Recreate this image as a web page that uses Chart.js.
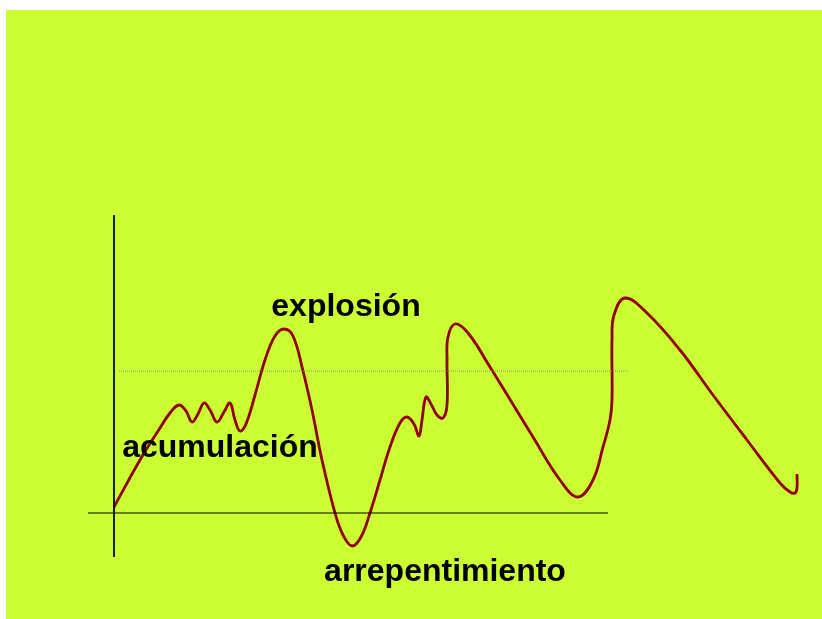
<!DOCTYPE html>
<html>
<head>
<meta charset="utf-8">
<script src="https://cdn.jsdelivr.net/npm/chart.js@4/dist/chart.umd.min.js"></script>
<style>
  body { margin: 0; background: #ffffff; }
  #fondo { position: absolute; left: 6px; top: 10px; width: 816px; height: 609px; background: #ccff33; }
  #grafico { position: absolute; left: 0; top: 0; }
</style>
</head>
<body>
<div id="fondo"></div>
<canvas id="grafico" width="822" height="619"></canvas>
<script>
// tiempo (x) y precio (y), origen en el cruce de los ejes
const tiempo = [0, 26, 46, 56, 65, 72, 78, 84, 90, 96, 103, 110, 116, 121, 126, 132, 141, 151, 161, 170,
  179, 189, 198, 208, 221, 229, 238, 247, 256, 266, 276, 286, 293, 300, 305, 308, 312, 317, 323, 329,
  333, 333, 334, 341, 354, 376, 419, 446, 464, 479, 489, 496, 498, 498, 500, 511, 533, 566, 599, 633,
  666, 676, 681, 683, 683];
const precio = [6, 53, 85, 100, 108, 102, 91, 99, 110, 103, 91, 101, 110, 93, 82, 89, 118, 153, 177, 184,
  177, 142, 103, 53, 0, -22, -33, -24, 0, 33, 66, 90, 96, 89, 77, 93, 116, 109, 98, 95,
  108, 153, 176, 189, 180, 146, 76, 33, 16, 33, 66, 93, 113, 173, 198, 215, 200, 163, 118, 73,
  30, 21, 20, 25, 39];

const ejeY = { x: [0, 0], y: [298, -44] };
const ejeX = { x: [-26, 494], y: [0, 0] };
const nivel = { x: [5, 515], y: [142, 142] };

const etiquetas = ["explosión", "acumulación", "arrepentimiento"];
const etiquetaX = [232, 106, 331];
const etiquetaY = [197, 56, -68];

function pares(xs, ys) {
  return xs.map((v, i) => ({ x: v, y: ys[i] }));
}

const textos = {
  id: "textos",
  afterDatasetsDraw(chart) {
    const ctx = chart.ctx;
    const sx = chart.scales.x, sy = chart.scales.y;
    ctx.save();
    ctx.fillStyle = "#000000";
    ctx.font = "bold 32px 'Liberation Sans', Arial, sans-serif";
    ctx.textAlign = "center";
    ctx.textBaseline = "alphabetic";
    etiquetas.forEach((t, i) => {
      ctx.fillText(t, sx.getPixelForValue(etiquetaX[i]), sy.getPixelForValue(etiquetaY[i]));
    });
    ctx.restore();
  }
};

new Chart(document.getElementById("grafico"), {
  type: "scatter",
  data: {
    datasets: [
      { data: pares(ejeY.x, ejeY.y), showLine: true, borderColor: "#000000", borderWidth: 1, pointRadius: 0 },
      { data: pares(ejeX.x, ejeX.y), showLine: true, borderColor: "#000000", borderWidth: 1, pointRadius: 0 },
      { data: pares(nivel.x, nivel.y), showLine: true, borderColor: "#8c8c8c", borderWidth: 1, borderDash: [1, 1], pointRadius: 0 },
      { data: pares(tiempo, precio), showLine: true, borderColor: "#900000", borderWidth: 2.8, pointRadius: 0, tension: 0.4 }
    ]
  },
  options: {
    responsive: false,
    animation: false,
    layout: { padding: 0 },
    plugins: { legend: { display: false }, tooltip: { enabled: false } },
    scales: {
      x: { type: "linear", display: false, min: -114, max: 708 },
      y: { type: "linear", display: false, min: -106, max: 513 }
    }
  },
  plugins: [textos]
});
</script>
</body>
</html>
